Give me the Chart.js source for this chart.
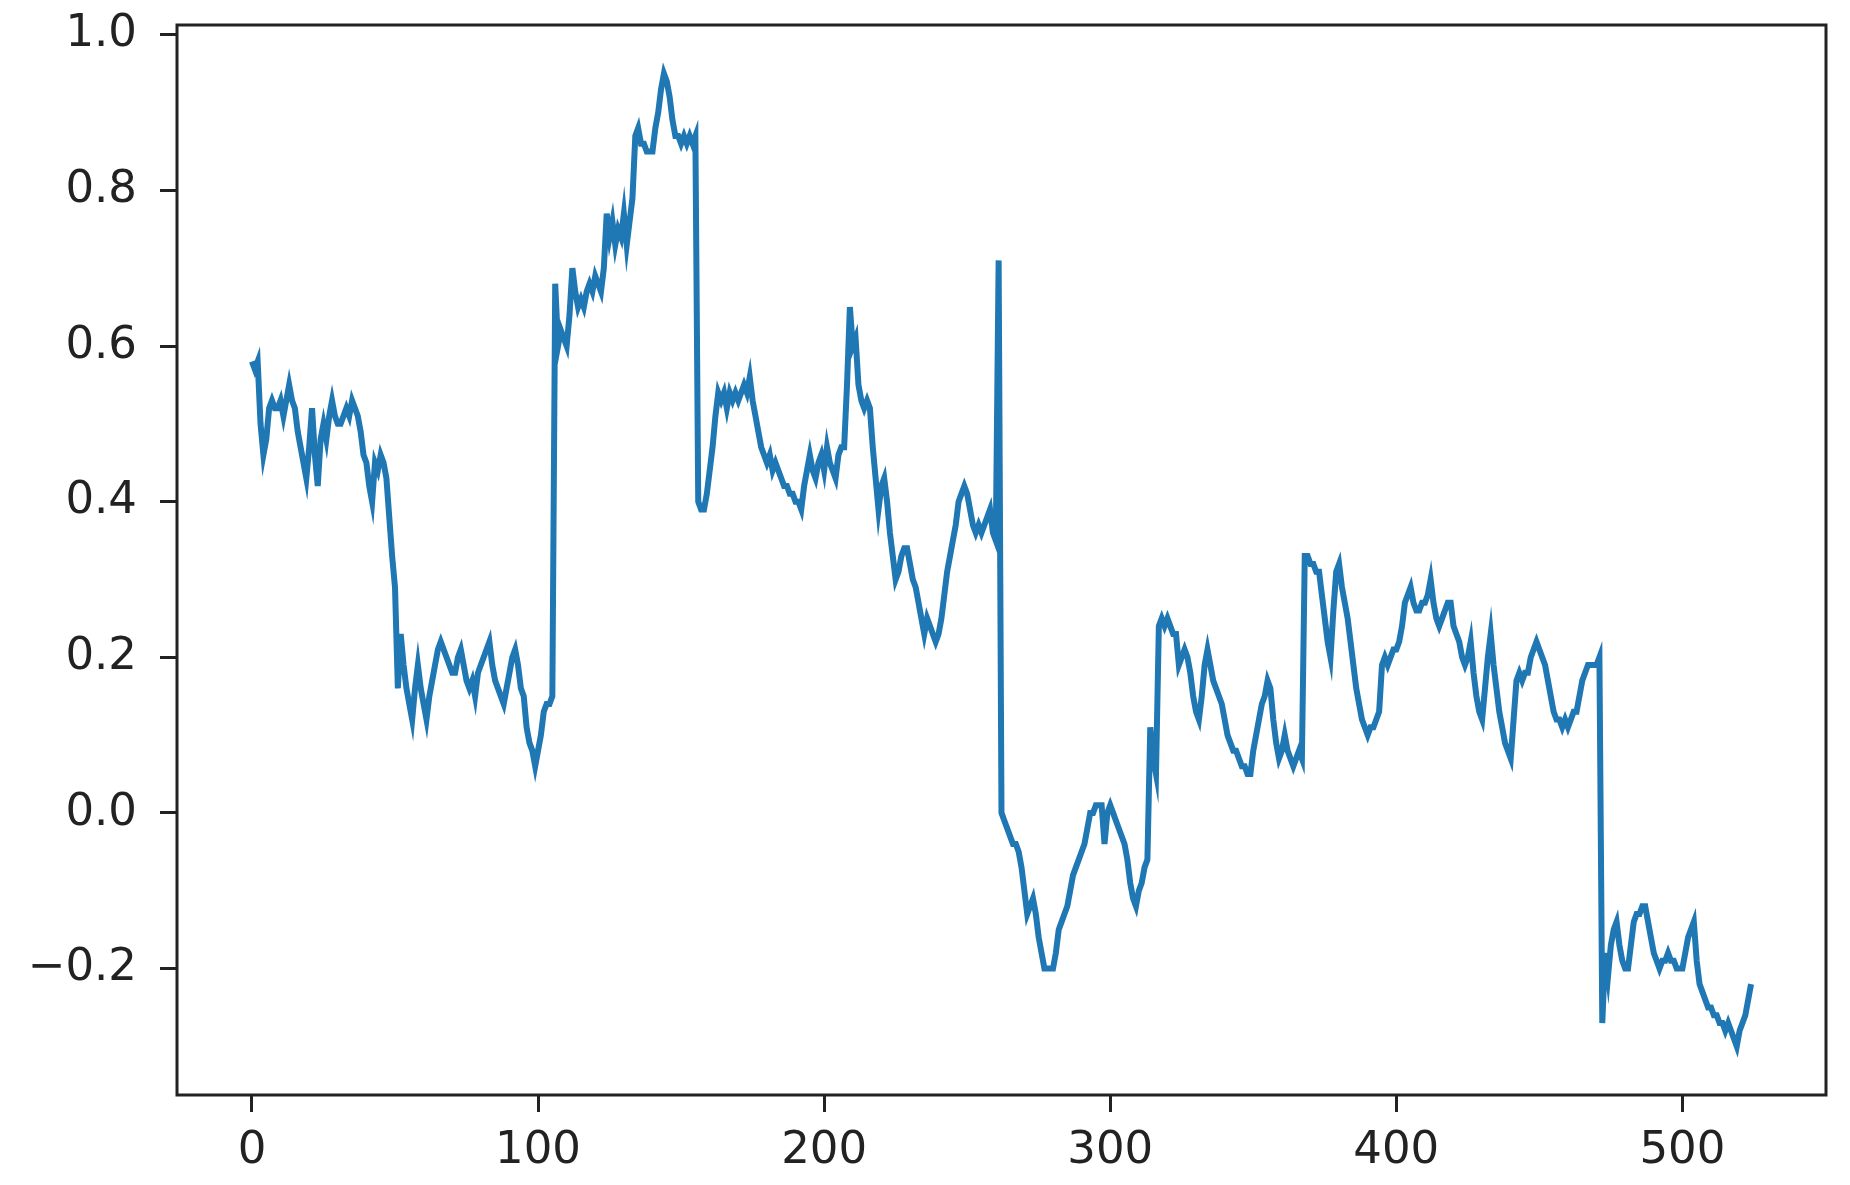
<!DOCTYPE html>
<html>
<head>
<meta charset="utf-8">
<title>Line chart</title>
<script src="https://cdn.jsdelivr.net/npm/chart.js@4.4.0/dist/chart.umd.min.js"></script>
<style>
    html, body { margin: 0; padding: 0; background: #ffffff; }
    #wrap { width: 1850px; height: 1185px; }
</style>
</head>
<body>
<div id="wrap"><canvas id="chartCanvas" width="1850" height="1185"></canvas></div>
<script>
// values, one per x index (0..524)
const seriesValues = [
    0.58, 0.57, 0.58, 0.50, 0.46, 0.48, 0.52, 0.53, 0.52, 0.52,
    0.53, 0.51, 0.53, 0.55, 0.53, 0.52, 0.49, 0.47, 0.45, 0.43,
    0.47, 0.52, 0.46, 0.42, 0.48, 0.50, 0.48, 0.51, 0.53, 0.51,
    0.50, 0.50, 0.51, 0.52, 0.51, 0.53, 0.52, 0.51, 0.49, 0.46,
    0.45, 0.42, 0.40, 0.45, 0.44, 0.46, 0.45, 0.43, 0.38, 0.33,
    0.29, 0.16, 0.23, 0.19, 0.16, 0.14, 0.12, 0.16, 0.19, 0.16,
    0.14, 0.12, 0.15, 0.17, 0.19, 0.21, 0.22, 0.21, 0.20, 0.19,
    0.18, 0.18, 0.20, 0.21, 0.19, 0.17, 0.16, 0.17, 0.15, 0.18,
    0.19, 0.20, 0.21, 0.22, 0.19, 0.17, 0.16, 0.15, 0.14, 0.16,
    0.18, 0.20, 0.21, 0.19, 0.16, 0.15, 0.11, 0.09, 0.08, 0.06,
    0.08, 0.10, 0.13, 0.14, 0.14, 0.15, 0.68, 0.60, 0.62, 0.61,
    0.60, 0.64, 0.70, 0.67, 0.65, 0.66, 0.65, 0.67, 0.68, 0.67,
    0.69, 0.68, 0.67, 0.70, 0.77, 0.74, 0.76, 0.73, 0.75, 0.74,
    0.77, 0.73, 0.76, 0.79, 0.87, 0.88, 0.86, 0.86, 0.85, 0.85,
    0.85, 0.88, 0.90, 0.93, 0.95, 0.94, 0.92, 0.89, 0.87, 0.87,
    0.86, 0.87, 0.86, 0.87, 0.86, 0.87, 0.40, 0.39, 0.39, 0.41,
    0.44, 0.47, 0.51, 0.54, 0.53, 0.54, 0.52, 0.54, 0.53, 0.54,
    0.53, 0.54, 0.55, 0.54, 0.56, 0.53, 0.51, 0.49, 0.47, 0.46,
    0.45, 0.46, 0.44, 0.45, 0.44, 0.43, 0.42, 0.42, 0.41, 0.41,
    0.40, 0.40, 0.39, 0.42, 0.44, 0.46, 0.44, 0.43, 0.45, 0.46,
    0.44, 0.47, 0.45, 0.44, 0.43, 0.46, 0.47, 0.47, 0.55, 0.65,
    0.60, 0.61, 0.55, 0.53, 0.52, 0.53, 0.52, 0.47, 0.43, 0.39,
    0.42, 0.43, 0.40, 0.36, 0.33, 0.30, 0.31, 0.33, 0.34, 0.34,
    0.32, 0.30, 0.29, 0.27, 0.25, 0.23, 0.25, 0.24, 0.23, 0.22,
    0.23, 0.25, 0.28, 0.31, 0.33, 0.35, 0.37, 0.40, 0.41, 0.42,
    0.41, 0.39, 0.37, 0.36, 0.37, 0.36, 0.37, 0.38, 0.39, 0.36,
    0.35, 0.71, 0.00, -0.01, -0.02, -0.03, -0.04, -0.04, -0.05, -0.07,
    -0.10, -0.13, -0.12, -0.11, -0.13, -0.16, -0.18, -0.20, -0.20, -0.20,
    -0.20, -0.18, -0.15, -0.14, -0.13, -0.12, -0.10, -0.08, -0.07, -0.06,
    -0.05, -0.04, -0.02, 0.00, 0.00, 0.01, 0.01, 0.01, -0.04, 0.00,
    0.01, 0.00, -0.01, -0.02, -0.03, -0.04, -0.06, -0.09, -0.11, -0.12,
    -0.10, -0.09, -0.07, -0.06, 0.11, 0.07, 0.05, 0.24, 0.25, 0.24,
    0.25, 0.24, 0.23, 0.23, 0.19, 0.20, 0.21, 0.20, 0.18, 0.15,
    0.13, 0.12, 0.15, 0.19, 0.21, 0.19, 0.17, 0.16, 0.15, 0.14,
    0.12, 0.10, 0.09, 0.08, 0.08, 0.07, 0.06, 0.06, 0.05, 0.05,
    0.08, 0.10, 0.12, 0.14, 0.15, 0.17, 0.16, 0.12, 0.09, 0.07,
    0.08, 0.10, 0.08, 0.07, 0.06, 0.07, 0.08, 0.07, 0.33, 0.33,
    0.32, 0.32, 0.31, 0.31, 0.28, 0.25, 0.22, 0.20, 0.26, 0.31,
    0.32, 0.29, 0.27, 0.25, 0.22, 0.19, 0.16, 0.14, 0.12, 0.11,
    0.10, 0.11, 0.11, 0.12, 0.13, 0.19, 0.20, 0.19, 0.20, 0.21,
    0.21, 0.22, 0.24, 0.27, 0.28, 0.29, 0.27, 0.26, 0.26, 0.27,
    0.27, 0.28, 0.30, 0.27, 0.25, 0.24, 0.25, 0.26, 0.27, 0.27,
    0.24, 0.23, 0.22, 0.20, 0.19, 0.20, 0.22, 0.18, 0.15, 0.13,
    0.12, 0.16, 0.20, 0.23, 0.19, 0.16, 0.13, 0.11, 0.09, 0.08,
    0.07, 0.12, 0.17, 0.18, 0.17, 0.18, 0.18, 0.20, 0.21, 0.22,
    0.21, 0.20, 0.19, 0.17, 0.15, 0.13, 0.12, 0.12, 0.11, 0.12,
    0.11, 0.12, 0.13, 0.13, 0.15, 0.17, 0.18, 0.19, 0.19, 0.19,
    0.19, 0.20, -0.27, -0.18, -0.21, -0.17, -0.15, -0.14, -0.17, -0.19,
    -0.20, -0.20, -0.17, -0.14, -0.13, -0.13, -0.12, -0.12, -0.14, -0.16,
    -0.18, -0.19, -0.20, -0.19, -0.19, -0.18, -0.19, -0.19, -0.20, -0.20,
    -0.20, -0.18, -0.16, -0.15, -0.14, -0.19, -0.22, -0.23, -0.24, -0.25,
    -0.25, -0.26, -0.26, -0.27, -0.27, -0.28, -0.27, -0.28, -0.29, -0.30,
    -0.28, -0.27, -0.26, -0.24, -0.22
];

const xTicks = [0, 100, 200, 300, 400, 500];
const yTicks = [-0.2, 0.0, 0.2, 0.4, 0.6, 0.8, 1.0];

const textColor = "#222222";
const frameColor = "#222222";
const lineColor = "#1f77b4";

// matplotlib-style box around the plot area
const frameBox = {
    id: "frameBox",
    afterDraw(chart) {
        const area = chart.chartArea;
        const c = chart.ctx;
        c.save();
        c.strokeStyle = frameColor;
        c.lineWidth = 3;
        c.strokeRect(area.left, area.top, area.right - area.left, area.bottom - area.top);
        c.restore();
    }
};

function fmtTick(v) {
    const s = Math.abs(v).toFixed(1);
    return v < -1e-9 ? "\u2212" + s : s;
}

const ctx = document.getElementById("chartCanvas").getContext("2d");

new Chart(ctx, {
    type: "line",
    data: {
        datasets: [{
            data: seriesValues.map((v, i) => ({ x: i, y: v })),
            borderColor: lineColor,
            borderWidth: 6,
            pointRadius: 0,
            tension: 0,
            fill: false
        }]
    },
    options: {
        responsive: false,
        devicePixelRatio: 1,
        animation: false,
        events: [],
        layout: { padding: { top: 25, right: 24, left: 0, bottom: 0 } },
        plugins: {
            legend: { display: false },
            tooltip: { enabled: false }
        },
        scales: {
            x: {
                type: "linear",
                min: -26.2,
                max: 550.2,
                afterBuildTicks: scale => { scale.ticks = xTicks.map(v => ({ value: v })); },
                afterFit: scale => {
                    scale.height = 90;
                    scale.paddingLeft = 0;
                    scale.paddingRight = 0;
                },
                grid: {
                    drawOnChartArea: false,
                    drawTicks: true,
                    tickLength: 17,
                    tickWidth: 3,
                    tickColor: frameColor
                },
                border: { display: false },
                ticks: {
                    color: textColor,
                    padding: 12,
                    maxRotation: 0,
                    font: { family: "DejaVu Sans", size: 45 },
                    callback: v => String(v)
                }
            },
            y: {
                type: "linear",
                min: -0.3625,
                max: 1.0125,
                afterBuildTicks: scale => { scale.ticks = yTicks.map(v => ({ value: v })); },
                afterFit: scale => {
                    scale.width = 177;
                    scale.paddingTop = 0;
                    scale.paddingBottom = 0;
                },
                grid: {
                    drawOnChartArea: false,
                    drawTicks: true,
                    tickLength: 17,
                    tickWidth: 3,
                    tickColor: frameColor
                },
                border: { display: false },
                ticks: {
                    color: textColor,
                    padding: 23,
                    font: { family: "DejaVu Sans", size: 45 },
                    callback: v => fmtTick(v)
                }
            }
        }
    },
    plugins: [frameBox]
});
</script>
</body>
</html>
